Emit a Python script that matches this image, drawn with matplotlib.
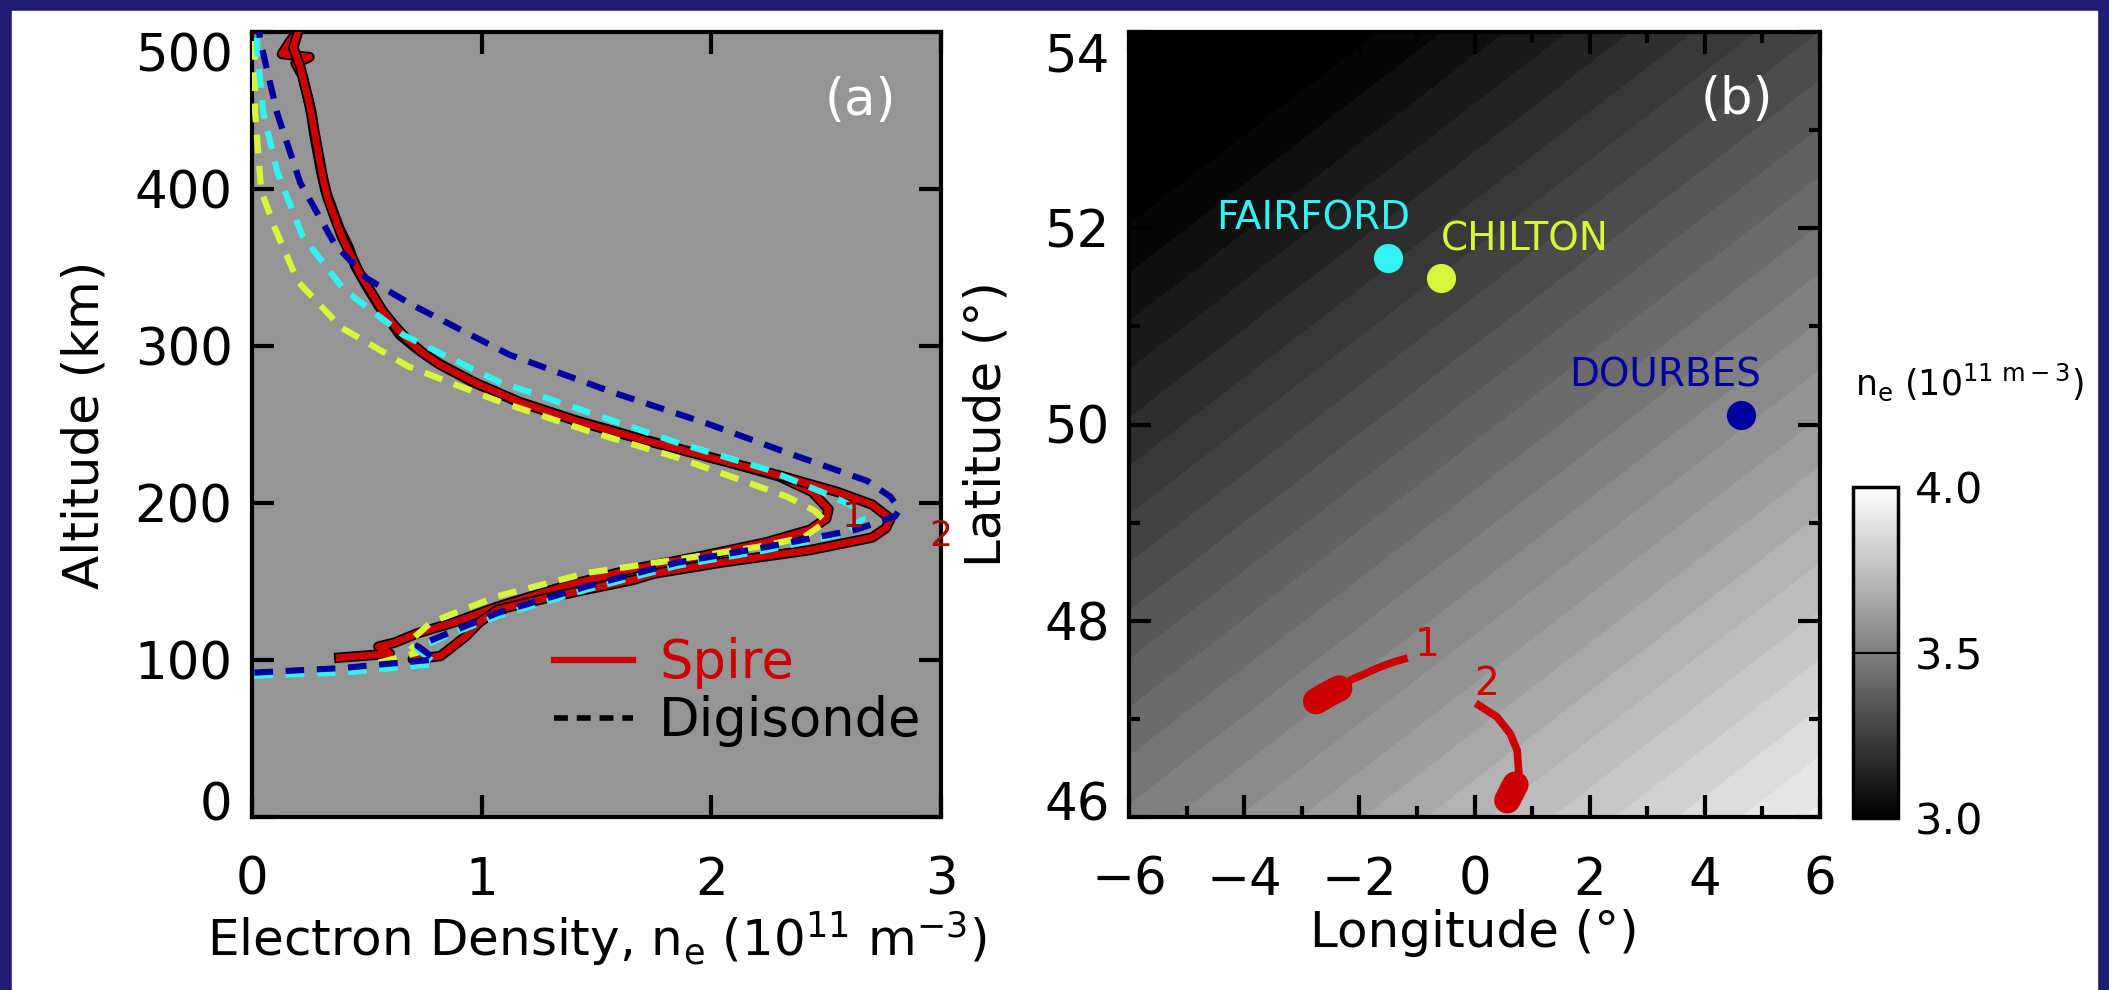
import numpy as np
import matplotlib
matplotlib.use("Agg")
from matplotlib import pyplot as plt
from matplotlib import patheffects as pe
from matplotlib import transforms
from matplotlib.patches import Rectangle
from matplotlib.lines import Line2D
from matplotlib.ticker import MultipleLocator
import matplotlib.colors as mcolors
import matplotlib.cm as cm

plt.rcParams['font.family'] = ['DejaVu Sans']
plt.rcParams['mathtext.default'] = 'regular'

# ---- panel (a): electron density profiles (1e11 m^-3) vs altitude (km)
spire1_ne = [0.20, 0.17, 0.13, 0.25, 0.19, 0.22, 0.24, 0.26, 0.27, 0.285,
             0.30, 0.32, 0.35, 0.38, 0.42, 0.45, 0.50, 0.55, 0.60, 0.645,
             0.72, 0.80, 0.955, 1.15, 1.40, 1.69, 2.00, 2.295, 2.44, 2.51,
             2.50, 2.43, 2.24, 1.95, 1.66, 1.36, 1.07, 0.88, 0.72, 0.62,
             0.55, 0.60, 0.38]
spire1_alt = [500, 495, 486, 484, 480, 472, 460, 448, 436, 424,
              412, 399, 387, 375, 363, 351, 338, 326, 316, 307,
              298, 290, 277.5, 265, 253, 241, 229, 217, 207, 196,
              190, 183, 175, 166, 158, 147, 134, 124, 117, 111,
              108.5, 104, 101.5]

spire2_ne = [0.20, 0.18, 0.21, 0.23, 0.25, 0.265, 0.28, 0.295, 0.31, 0.33,
             0.36, 0.39, 0.43, 0.47, 0.52, 0.57, 0.62, 0.67, 0.74, 0.82,
             0.98, 1.17, 1.42, 1.71, 2.02, 2.31, 2.55, 2.70, 2.78, 2.76,
             2.70, 2.43, 2.04, 1.75, 1.66, 1.46, 1.27, 1.07, 0.99, 0.93,
             0.86, 0.82, 0.70, 0.73]
spire2_alt = [500, 490, 478, 466, 454, 442, 430, 418, 406, 394,
              382, 370, 358, 346, 334, 322, 313, 305, 296, 288,
              276, 264, 252, 240, 228, 217, 207, 199, 190, 184,
              178, 170, 162, 155, 151, 145, 139, 132, 124, 115,
              107, 102.5, 100.5, 106]

fairford_ne = [0.01, 0.40, 0.80, 0.72, 0.84, 1.07, 1.46, 1.85, 2.24, 2.59,
               2.66, 2.63, 2.53, 2.24, 1.85, 1.46, 1.07, 0.66, 0.40, 0.22,
               0.11, 0.05, 0.025, 0.02]
fairford_alt = [90, 92, 97.5, 107, 115, 128, 145, 160, 170, 181,
                190, 197, 204, 221.5, 238.5, 258, 277.5, 307, 336, 370,
                411, 448, 484.5, 500]

dourbes_ne = [0.01, 0.40, 0.80, 0.72, 0.82, 1.07, 1.46, 1.85, 2.24, 2.63,
              2.80, 2.82, 2.78, 2.68, 2.35, 1.98, 1.58, 1.12, 0.70, 0.50,
              0.36, 0.21, 0.11, 0.04, 0.03]
dourbes_alt = [92, 95, 100.4, 109, 115, 130, 147, 162, 172, 183,
               191.5, 196, 204, 214, 231, 250.7, 270, 294.5, 326, 343,
               365, 404, 448, 492, 500]

chilton_ne = [0.01, 0.49, 0.72, 0.68, 0.78, 1.07, 1.46, 1.85, 2.20, 2.40,
              2.50, 2.45, 2.33, 2.14, 1.85, 1.46, 1.07, 0.68, 0.39, 0.20,
              0.10, 0.04, 0.014, 0.01]
chilton_alt = [92, 96, 104.7, 111, 124, 140.7, 155.5, 164, 172, 178,
               188, 195, 204, 214, 229, 246, 265, 287, 311.6, 341,
               375, 399, 448, 499]

alt_ticks = [0, 100, 200, 300, 400, 500]
ne_ticks = [0, 1, 2, 3]

# ---- panel (b): map
bg_lon = [-6, 6]
bg_lat = [46, 54]
bg_ne = [[3.49, 3.93],
         [2.84, 3.28]]

lon_ticks = [-6, -4, -2, 0, 2, 4, 6]
lat_ticks = [46, 48, 50, 52, 54]

station_names = ['FAIRFORD', 'CHILTON', 'DOURBES']
station_lon = [-1.50, -0.59, 4.62]
station_lat = [51.70, 51.49, 50.10]

track1_lon = [-2.75, -2.55, -2.35, -2.14, -1.90, -1.68, -1.40, -1.16]
track1_lat = [47.18, 47.25, 47.31, 47.40, 47.46, 47.52, 47.58, 47.62]
track2_lon = [0.02, 0.39, 0.62, 0.74, 0.77, 0.71, 0.64, 0.57]
track2_lat = [47.16, 47.02, 46.85, 46.68, 46.45, 46.33, 46.25, 46.17]

cbar_ticks = [3.0, 3.5, 4.0]

RED = '#cc0000'
CYAN = '#33f2f2'
YELLOW = '#d8f53a'
NAVY = '#0000a0'

W, H = 2109, 990
fig = plt.figure(figsize=(W / 100, H / 100), dpi=100, facecolor='#1e1b72')
fig.patches.append(Rectangle((12 / W, 0), (W - 24) / W, (H - 11) / H,
                             transform=fig.transFigure, color='white', zorder=-1))

FS = 37   # tick labels
LFS = 36  # axis labels


def style_axes(ax):
    for s in ax.spines.values():
        s.set_linewidth(3)
    ax.tick_params(which='both', direction='in', top=True, right=True,
                   labelsize=FS, width=3)
    ax.tick_params(which='major', length=16)
    ax.tick_params(which='minor', length=8)
    ax.tick_params(axis='x', pad=28)
    ax.tick_params(axis='y', pad=14)


def squeeze_end_labels(ax):
    # lowest / highest y labels sit inside the axis range, as in the original
    labels = ax.get_yticklabels()
    for lab, dy in ((labels[0], 0.16), (labels[-1], -0.20)):
        lab.set_transform(lab.get_transform() +
                          transforms.ScaledTranslation(0, dy, fig.dpi_scale_trans))


# panel (a)
ax = fig.add_axes([252 / W, 1 - 817 / H, 689 / W, 785 / H])
ax.set_facecolor('#959595')
outline = [pe.Stroke(linewidth=7.5, foreground='black'), pe.Normal()]
ax.plot(spire1_ne, spire1_alt, color=RED, lw=5, path_effects=outline, zorder=3)
ax.plot(spire2_ne, spire2_alt, color=RED, lw=5, path_effects=outline, zorder=3)
dash = (0, (3, 2))
ax.plot(chilton_ne, chilton_alt, color=YELLOW, lw=4.5, ls=dash, zorder=4)
ax.plot(fairford_ne, fairford_alt, color=CYAN, lw=4.5, ls=dash, zorder=4)
ax.plot(dourbes_ne, dourbes_alt, color=NAVY, lw=4.5, ls=dash, zorder=4)
ax.text(spire1_ne[29] + 0.06, spire1_alt[29] - 5, '1', color='#b00000', fontsize=26,
        ha='left', va='center', zorder=5)
ax.text(spire2_ne[28] + 0.17, spire2_alt[28] - 11, '2', color='#b00000', fontsize=26,
        ha='left', va='center', zorder=5)
ax.text(2.65, 456, '(a)', color='white', fontsize=FS, ha='center', va='center')
ax.set_xlim(0, 3)
ax.set_ylim(0, 500)
ax.set_xticks(ne_ticks)
ax.set_yticks(alt_ticks)
style_axes(ax)
ax.set_ylabel('Altitude (km)', fontsize=LFS, labelpad=19)
ax.set_xlabel('Electron Density, n$_e$ (10$^{11}$ m$^{-3}$)', fontsize=LFS, labelpad=2)
handles = [Line2D([], [], color=RED, lw=4.5),
           Line2D([], [], color='black', lw=4, ls=(0, (2.5, 1.6)))]
ax.legend(handles, ['Spire', 'Digisonde'], loc='lower right',
          bbox_to_anchor=(1.01, 0.055), frameon=False, fontsize=38,
          handlelength=1.5, handletextpad=0.5, labelspacing=0.12,
          labelcolor=[RED, 'black'], borderpad=0)

# panel (b)
bx = fig.add_axes([1129 / W, 1 - 817 / H, 691 / W, 785 / H])
norm = mcolors.Normalize(vmin=3.0, vmax=4.0)
bx.contourf(bg_lon, bg_lat, bg_ne, levels=np.arange(2.80, 4.01, 0.04),
            cmap='gray', norm=norm, extend='both')
for name, lon, lat, c in zip(station_names, station_lon, station_lat,
                             [CYAN, YELLOW, NAVY]):
    bx.plot(lon, lat, 'o', color=c, ms=20, zorder=4)
bx.text(-4.49, 51.99, station_names[0], color=CYAN, fontsize=28, ha='left', va='baseline')
bx.text(-0.59, 51.77, station_names[1], color=YELLOW, fontsize=28, ha='left', va='baseline')
bx.text(1.64, 50.39, station_names[2], color=NAVY, fontsize=28, ha='left', va='baseline')
bx.plot(track1_lon, track1_lat, color=RED, lw=5.5, solid_capstyle='butt', zorder=4)
bx.plot(track1_lon[:3], track1_lat[:3], color=RED, lw=19, solid_capstyle='round', zorder=4)
bx.plot(track2_lon, track2_lat, color=RED, lw=5.5, solid_capstyle='butt', zorder=4)
bx.plot(track2_lon[-3:], track2_lat[-3:], color=RED, lw=19, solid_capstyle='round', zorder=4)
bx.text(track1_lon[-1] + 0.12, track1_lat[-1] + 0.13, '1', color=RED, fontsize=28,
        ha='left', va='center', zorder=5)
bx.text(track2_lon[0] + 0.18, track2_lat[0] + 0.2, '2', color=RED, fontsize=28,
        ha='center', va='center', zorder=5)
bx.text(4.55, 53.31, '(b)', color='white', fontsize=FS, ha='center', va='center')
bx.set_xlim(-6, 6)
bx.set_ylim(46, 54)
bx.set_xticks(lon_ticks)
bx.set_yticks(lat_ticks)
bx.xaxis.set_minor_locator(MultipleLocator(1))
bx.yaxis.set_minor_locator(MultipleLocator(1))
style_axes(bx)
bx.set_xticklabels([f'{v:g}'.replace('-', '\u2212') for v in lon_ticks])
bx.set_ylabel('Latitude (°)', fontsize=LFS, labelpad=24)
bx.set_xlabel('Longitude (°)', fontsize=LFS, labelpad=2)

# colorbar
cax = fig.add_axes([1853 / W, 1 - 818 / H, 45 / W, 331 / H])
cb = fig.colorbar(cm.ScalarMappable(norm=norm, cmap='gray'), cax=cax)
cb.set_ticks(cbar_ticks)
cb.set_ticklabels([f'{v:.1f}' for v in cbar_ticks])
cb.outline.set_linewidth(2.5)
cax.tick_params(length=0, pad=12, labelsize=31)
cax.axhline(3.5, color='black', lw=1.5)
fig.text(1855 / W, 1 - 382 / H, 'n$_e$ (10$^{11\\ m-3}$)', fontsize=25,
         ha='left', va='center')

squeeze_end_labels(ax)
squeeze_end_labels(bx)

fig.savefig('out.png', dpi=100, facecolor=fig.get_facecolor())
